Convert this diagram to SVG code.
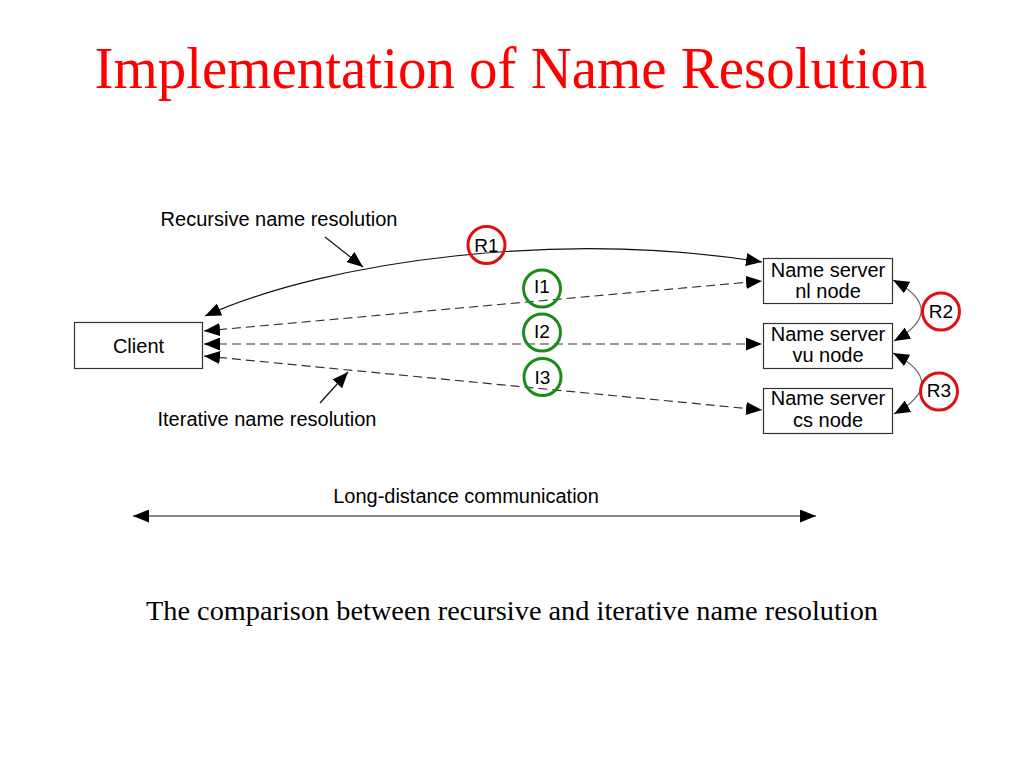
<svg xmlns="http://www.w3.org/2000/svg" width="1024" height="768" viewBox="0 0 1024 768">
<defs>
<marker id="ah" markerUnits="userSpaceOnUse" markerWidth="17" markerHeight="13" refX="16" refY="6.5" orient="auto-start-reverse" viewBox="0 0 17 13">
<path d="M0,0 L16,6.5 L0,13 z" fill="#000"/>
</marker>
</defs>
<style>
.lbl{font-family:"Liberation Sans",Arial,sans-serif;font-size:20px;fill:#000}
.cl{font-family:"Liberation Sans",Arial,sans-serif;font-size:19px;fill:#000;text-anchor:middle}
.box{fill:#fff;stroke:#333;stroke-width:1.2}
.dash{fill:none;stroke:#333;stroke-width:1.2;stroke-dasharray:9,5}
.solid{fill:none;stroke:#111;stroke-width:1.2}
.thin{fill:none;stroke:#666;stroke-width:1.2}
.red{fill:none;stroke:#e01010;stroke-width:3}
.green{fill:none;stroke:#1a8c1a;stroke-width:3}
</style>
<rect width="1024" height="768" fill="#fff"/>
<text x="511" y="88" font-family="Liberation Serif,'Times New Roman',serif" font-size="60" fill="#ff0000" text-anchor="middle" textLength="833" lengthAdjust="spacingAndGlyphs">Implementation of Name Resolution</text>

<g id="connectors">
<path class="solid" d="M205,316 C330,260 560,230 762,262" marker-start="url(#ah)" marker-end="url(#ah)"/>
<line class="dash" x1="204" y1="331" x2="762" y2="281" marker-start="url(#ah)" marker-end="url(#ah)"/>
<line class="dash" x1="204" y1="344" x2="762" y2="344" marker-start="url(#ah)" marker-end="url(#ah)"/>
<line class="dash" x1="204" y1="356" x2="762" y2="410" marker-start="url(#ah)" marker-end="url(#ah)"/>
<path class="thin" d="M893,280 Q949,310 894,341" marker-start="url(#ah)" marker-end="url(#ah)"/>
<path class="thin" d="M893,353 Q950,383 894,414" marker-start="url(#ah)" marker-end="url(#ah)"/>
<line class="solid" x1="325" y1="237" x2="363" y2="267" marker-end="url(#ah)"/>
<line class="solid" x1="320" y1="403" x2="348" y2="372" marker-end="url(#ah)"/>
<line class="solid" x1="133" y1="516" x2="816" y2="516" marker-start="url(#ah)" marker-end="url(#ah)"/>
</g>

<g id="client">
<rect class="box" x="74.5" y="322.5" width="128" height="46"/>
<text class="lbl" x="138.5" y="353" text-anchor="middle">Client</text>
</g>
<g id="ns-nl">
<rect class="box" x="763.5" y="258.5" width="129" height="45"/>
<text class="lbl" x="828" y="277" text-anchor="middle">Name server</text>
<text class="lbl" x="828" y="298" text-anchor="middle">nl node</text>
</g>
<g id="ns-vu">
<rect class="box" x="763.5" y="323.5" width="129" height="45"/>
<text class="lbl" x="828" y="341" text-anchor="middle">Name server</text>
<text class="lbl" x="828" y="362" text-anchor="middle">vu node</text>
</g>
<g id="ns-cs">
<rect class="box" x="763.5" y="388.5" width="129" height="45"/>
<text class="lbl" x="828" y="405" text-anchor="middle">Name server</text>
<text class="lbl" x="828" y="427" text-anchor="middle">cs node</text>
</g>

<g id="R1"><circle class="red" cx="486.5" cy="245" r="18.5"/><text class="cl" x="486.5" y="252">R1</text></g>
<g id="I1"><circle class="green" cx="542" cy="288.5" r="18.5"/><text class="cl" x="542" y="293">I1</text></g>
<g id="I2"><circle class="green" cx="542" cy="332.5" r="18.5"/><text class="cl" x="542" y="338">I2</text></g>
<g id="I3"><circle class="green" cx="542.5" cy="377" r="18.5"/><text class="cl" x="542.5" y="384">I3</text></g>
<g id="R2"><circle class="red" cx="941" cy="311.5" r="18.5"/><text class="cl" x="941" y="318">R2</text></g>
<g id="R3"><circle class="red" cx="939" cy="391.5" r="18.5"/><text class="cl" x="939" y="397">R3</text></g>

<text class="lbl" x="279" y="226" text-anchor="middle">Recursive name resolution</text>
<text class="lbl" x="267" y="426" text-anchor="middle">Iterative name resolution</text>
<text class="lbl" x="466" y="503" text-anchor="middle">Long-distance communication</text>
<text x="512" y="620" font-family="Liberation Serif,'Times New Roman',serif" font-size="27" fill="#000" text-anchor="middle" textLength="732" lengthAdjust="spacingAndGlyphs">The comparison between recursive and iterative name resolution</text>
</svg>
